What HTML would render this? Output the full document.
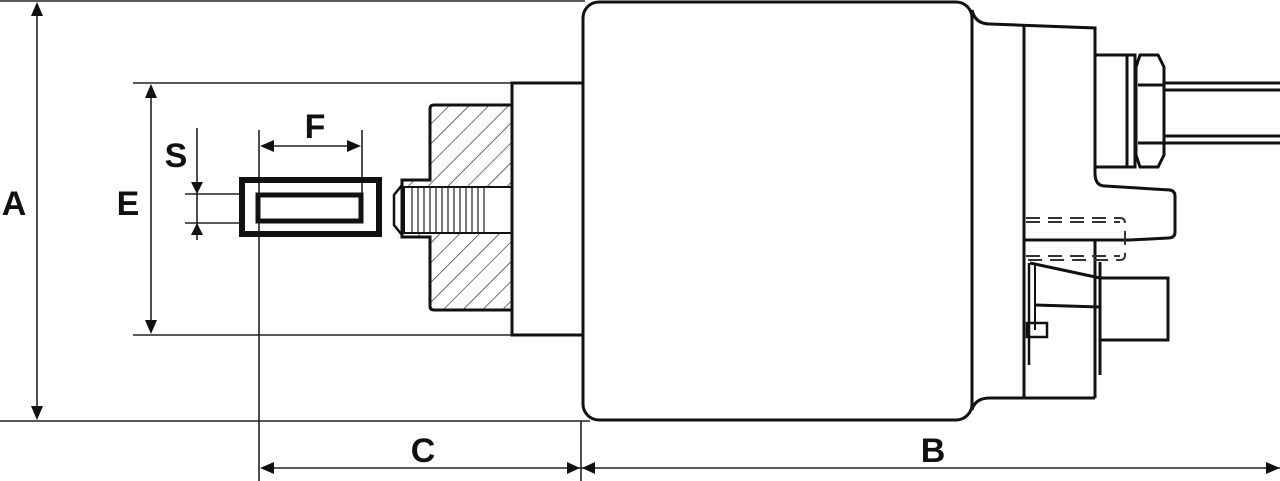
<!DOCTYPE html>
<html><head><meta charset="utf-8"><style>
html,body{margin:0;padding:0;background:#fff;}
svg{display:block}
text{font-family:"Liberation Sans",sans-serif;font-weight:bold;fill:#111;font-size:34px;text-anchor:middle}
</style></head><body>
<svg width="1280" height="481" viewBox="0 0 1280 481" xmlns="http://www.w3.org/2000/svg">
<defs>
<pattern id="h" width="14" height="14" patternUnits="userSpaceOnUse" patternTransform="rotate(45)">
<rect width="14" height="14" fill="#fff"/><line x1="0" y1="0" x2="0" y2="14" stroke="#222" stroke-width="1.3"/>
</pattern>
</defs>
<g stroke="#222" stroke-width="1.6" fill="none">
<line x1="0" y1="1" x2="585" y2="1"/>
<line x1="0" y1="421" x2="590" y2="421"/>
<line x1="37" y1="10" x2="37" y2="412"/>
<line x1="133" y1="83" x2="512" y2="83"/>
<line x1="133" y1="335" x2="512" y2="335"/>
<line x1="151" y1="92" x2="151" y2="326"/>
<line x1="197" y1="128" x2="197" y2="240"/>
<line x1="185" y1="194" x2="245" y2="194"/>
<line x1="185" y1="223" x2="245" y2="223"/>
<line x1="259" y1="130" x2="259" y2="481"/>
<line x1="362" y1="130" x2="362" y2="193"/>
<line x1="268" y1="146" x2="352" y2="146"/>
<line x1="581" y1="421" x2="581" y2="481"/>
<line x1="268" y1="468" x2="1280" y2="468"/>
</g>
<g fill="#111">
<polygon points="37,2 31,16 43,16"/><polygon points="37,420 31,406 43,406"/>
<polygon points="151,84 145,98 157,98"/><polygon points="151,334 145,320 157,320"/>
<polygon points="197,194 191,182 203,182"/><polygon points="197,223 191,235 203,235"/>
<polygon points="260,146 274,140 274,152"/><polygon points="361,146 347,140 347,152"/>
<polygon points="260,468 274,462 274,474"/><polygon points="580,468 567,462 567,474"/>
<polygon points="582,468 595,462 595,474"/><polygon points="1280,468 1266,462 1266,474"/>
</g>
<text x="14" y="215">A</text>
<text x="128" y="215">E</text>
<text x="176" y="167">S</text>
<text x="315" y="138">F</text>
<text x="423" y="462">C</text>
<text x="933" y="462">B</text>
<!-- plunger -->
<rect x="242" y="180" width="137" height="54" fill="none" stroke="#111" stroke-width="6"/>
<rect x="258" y="195" width="103" height="26" fill="none" stroke="#111" stroke-width="5"/>
<!-- hatched block -->
<path d="M434,105 L512,105 L512,310 L434,310 Q430,310 430,306 L430,237 L402,237 L402,180 L430,180 L430,109 Q430,105 434,105Z" fill="url(#h)" stroke="#111" stroke-width="3"/>
<rect x="404" y="187" width="108" height="46" fill="#fff" stroke="#111" stroke-width="2"/>
<g stroke="#222" stroke-width="1.2">
<line x1="412" y1="187" x2="412" y2="233"/><line x1="418" y1="187" x2="418" y2="233"/><line x1="424" y1="187" x2="424" y2="233"/><line x1="430" y1="187" x2="430" y2="233"/><line x1="436" y1="187" x2="436" y2="233"/><line x1="442" y1="187" x2="442" y2="233"/><line x1="448" y1="187" x2="448" y2="233"/><line x1="454" y1="187" x2="454" y2="233"/><line x1="460" y1="187" x2="460" y2="233"/><line x1="466" y1="187" x2="466" y2="233"/><line x1="472" y1="187" x2="472" y2="233"/><line x1="478" y1="187" x2="478" y2="233"/><line x1="484" y1="187" x2="484" y2="233"/>
</g>
<rect x="490" y="189" width="22" height="42" fill="#fff"/>
<path d="M402,185 L394,195 L394,225 L402,235" fill="none" stroke="#111" stroke-width="2.5"/>
<!-- flange -->
<rect x="512" y="83" width="71" height="252" fill="#fff" stroke="#111" stroke-width="3"/>
<!-- body -->
<rect x="583" y="2" width="389" height="418" rx="16" fill="#fff" stroke="#111" stroke-width="3"/>
<g fill="none" stroke="#111" stroke-width="3">
<path d="M972,10 Q975,24 990,24 L1095,28 L1095,173 Q1095,186 1105,186 L1170,190 Q1175,191 1175,196 L1175,232 Q1175,238 1168,238 L1130,240 L1024,240"/>
<path d="M972,410 Q975,398 990,398 L1095,398"/>
<line x1="1024" y1="26" x2="1024" y2="398"/>
<line x1="1095" y1="240" x2="1095" y2="398"/>
<rect x="1095" y="55" width="40" height="112"/>
<line x1="1127" y1="55" x2="1127" y2="167"/>
<path d="M1140,55 L1158,55 L1164,67 L1164,155 L1158,167 L1140,167 L1136,155 L1136,67Z"/>
<line x1="1138" y1="85" x2="1164" y2="85"/><line x1="1138" y1="143" x2="1164" y2="143"/>
<line x1="1164" y1="83" x2="1280" y2="83"/><line x1="1164" y1="90" x2="1280" y2="90"/>
<line x1="1164" y1="136" x2="1280" y2="136"/><line x1="1164" y1="143" x2="1280" y2="143"/>
<rect x="1100" y="278" width="68" height="62"/>
<path d="M1030,263 L1100,278 M1035,305 L1100,307 M1100,262 L1100,375 M1095,310 L1095,375"/>
<rect x="1027" y="323" width="20" height="14" stroke-width="2.5"/>
<line x1="1029" y1="263" x2="1029" y2="365" stroke-width="2.5"/><line x1="1035" y1="263" x2="1035" y2="330" stroke-width="2"/>
</g>
<g fill="none" stroke="#333" stroke-width="2" stroke-dasharray="14,8">
<path d="M1026,218 L1120,218 Q1125,218 1125,223 L1125,255 Q1125,260 1120,260 L1026,260"/>
<line x1="1026" y1="222" x2="1120" y2="222"/><line x1="1026" y1="256" x2="1120" y2="256"/>
</g>
</svg>
</body></html>
